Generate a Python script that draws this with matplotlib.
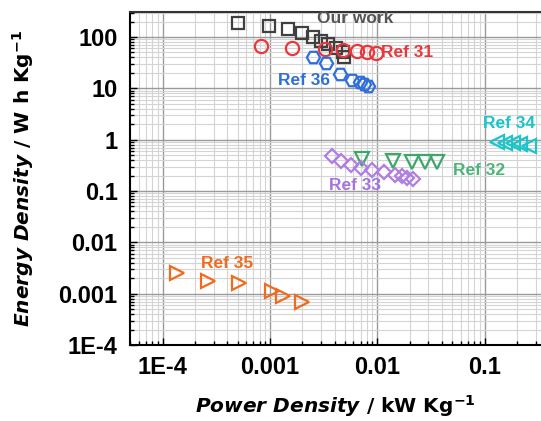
import matplotlib
matplotlib.use("Agg")
import matplotlib.pyplot as plt
from matplotlib.ticker import LogLocator, FixedLocator, FixedFormatter, NullFormatter

plt.rcParams['font.family'] = 'Liberation Sans'
plt.rcParams['font.weight'] = 'bold'
plt.rcParams['mathtext.fontset'] = 'custom'
plt.rcParams['mathtext.rm'] = 'DejaVu Sans:bold'
plt.rcParams['mathtext.it'] = 'DejaVu Sans:bold:italic'
plt.rcParams['mathtext.bf'] = 'DejaVu Sans:bold'

# Ragone data: power density (kW/kg) vs energy density (Wh/kg)
our_p = [5.0e-4, 9.8e-4, 1.48e-3, 2.0e-3, 2.5e-3, 2.96e-3, 3.49e-3, 4.12e-3, 4.8e-3, 4.9e-3]
our_e = [185, 166, 143, 118, 99, 84, 72, 60, 52, 40]

ref31_p = [8.2e-4, 1.61e-3, 3.26e-3, 4.77e-3, 6.43e-3, 7.96e-3, 9.7e-3]
ref31_e = [67, 60, 57.5, 56, 53, 52, 49]

ref36_p = [2.54e-3, 3.33e-3, 4.49e-3, 5.77e-3, 6.9e-3, 7.5e-3, 8.24e-3]
ref36_e = [41.3, 31.8, 18.8, 14.5, 13.1, 12.0, 11.3]

ref34_p = [0.13, 0.155, 0.183, 0.214, 0.261]
ref34_e = [0.91, 0.87, 0.85, 0.81, 0.76]

ref32_p = [7.16e-3, 0.0141, 0.0209, 0.0279, 0.0358]
ref32_e = [0.42, 0.39, 0.37, 0.366, 0.366]

ref33_p = [3.76e-3, 4.6e-3, 5.69e-3, 7.05e-3, 9.0e-3, 0.01153, 0.01463, 0.017, 0.0191, 0.0217]
ref33_e = [0.478, 0.392, 0.327, 0.279, 0.255, 0.233, 0.209, 0.195, 0.182, 0.171]

ref35_p = [1.35e-4, 2.66e-4, 5.18e-4, 1.04e-3, 1.31e-3, 1.97e-3]
ref35_e = [2.48e-3, 1.78e-3, 1.58e-3, 1.13e-3, 9.06e-4, 6.9e-4]

y_ticks = [1e-4, 1e-3, 1e-2, 1e-1, 1, 10, 100]
y_labels = ["1E-4", "0.001", "0.01", "0.1", "1", "10", "100"]
x_ticks = [1e-4, 1e-3, 1e-2, 1e-1]
x_labels = ["1E-4", "0.001", "0.01", "0.1"]

fig = plt.figure(figsize=(5.41, 4.21), dpi=100)
ax = fig.add_axes([130/541, 1 - 345/421, 1 - 130/541, 333/421])
ax.set_xscale('log')
ax.set_yscale('log')
ax.set_xlim(4.95e-5, 0.336)
ax.set_ylim(1e-4, 307)

ax.xaxis.set_major_locator(FixedLocator(x_ticks))
ax.xaxis.set_major_formatter(FixedFormatter(x_labels))
ax.yaxis.set_major_locator(FixedLocator(y_ticks))
ax.yaxis.set_major_formatter(FixedFormatter(y_labels))
ax.xaxis.set_minor_locator(LogLocator(base=10, subs=range(2, 10), numticks=20))
ax.yaxis.set_minor_locator(LogLocator(base=10, subs=range(2, 10), numticks=20))
ax.xaxis.set_minor_formatter(NullFormatter())
ax.yaxis.set_minor_formatter(NullFormatter())

ax.grid(True, which='major', color='#9a9a9a', lw=1.0)
ax.grid(True, which='minor', color='#d4d4d4', lw=0.8)
ax.set_axisbelow(True)

ax.tick_params(which='both', direction='in', labelsize=17, width=1)
ax.tick_params(which='major', length=5)
ax.tick_params(which='minor', length=3)
ax.tick_params(axis='x', pad=8)
ax.tick_params(axis='y', pad=9)
ax.spines['right'].set_visible(False)
ax.spines['left'].set_linewidth(1.5)
ax.spines['bottom'].set_linewidth(1.5)
ax.spines['top'].set_linewidth(1.5)
ax.spines['top'].set_color('#333333')

mk = dict(ls='none', mfc='none', mew=1.6, clip_on=False)
ax.plot(our_p, our_e, 's', color='#404040', ms=8, **mk)
ax.plot(ref31_p, ref31_e, 'o', color='#e8383d', ms=9.5, **mk)
ax.plot(ref36_p, ref36_e, 'H', color='#2e6fdc', ms=9.5, **mk)
ax.plot(ref34_p, ref34_e, '<', color='#1bc4c9', ms=9.5, **mk)
ax.plot(ref32_p, ref32_e, 'v', color='#3da66a', ms=9.5, **mk)
ax.plot(ref33_p, ref33_e, 'D', color='#b07de2', ms=7.5, **mk)
ax.plot(ref35_p, ref35_e, '>', color='#f26b1d', ms=9.5, **mk)

# series labels
txt = dict(fontsize=12.5, fontweight='bold', va='center', ha='left')
ax.text(2.74e-3, 228, "Our work", color='#555555', **txt)
ax.text(0.0108, 51, "Ref 31", color='#e8383d', **txt)
ax.text(1.19e-3, 14.2, "Ref 36", color='#2e6fdc', **txt)
ax.text(0.096, 2.08, "Ref 34", color='#1bc4c9', **txt)
ax.text(0.0505, 0.255, "Ref 32", color='#4cb57a', **txt)
ax.text(3.57e-3, 0.13, "Ref 33", color='#a574dc', **txt)
ax.text(2.26e-4, 3.85e-3, "Ref 35", color='#f26b1d', **txt)

ax.set_xlabel(r"$Power\ Density$ / kW Kg$^{-1}$", fontsize=14.5, fontweight='bold',
              family='DejaVu Sans', labelpad=10)
ax.set_ylabel(r"$Energy\ Density$ / W h Kg$^{-1}$", fontsize=14.5, fontweight='bold',
              family='DejaVu Sans', labelpad=16)

fig.savefig("out.png", dpi=100)
